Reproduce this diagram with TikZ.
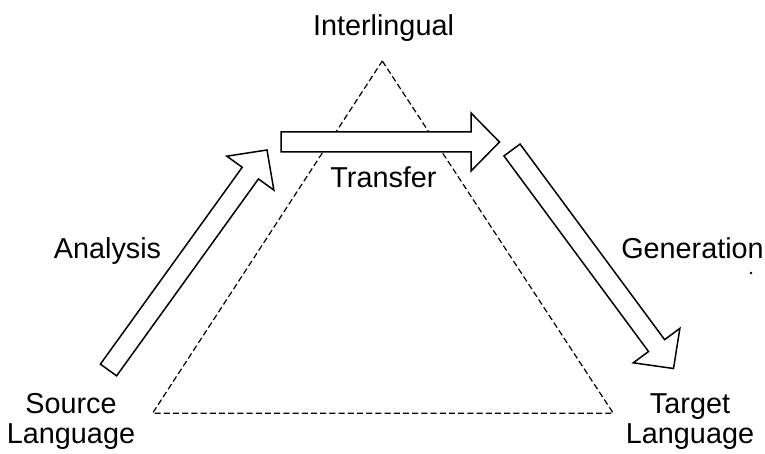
\documentclass[tikz,border=0pt]{standalone}
\usepackage{fontspec}
\setmainfont{Liberation Sans}
\usetikzlibrary{calc}
\tikzset{
  level label/.style={
    font=\fontsize{14.4}{15}\selectfont,inner sep=0pt,align=center
  },
  pyramid edge/.style={
    line width=0.6pt,dash pattern=on 3pt off 1.6pt
  },
  block arrow/.style={
    draw,fill=white,line width=0.75pt,line join=miter
  }
}
% hollow arrow from #1 (tail) to #2 (tip)
\newcommand\blockarrow[2]{%
  \coordinate (#1-hb) at ($(#2)!14.25pt!(#1)$);
  \draw[block arrow]
    ($(#1)!5pt!90:(#2)$) -- ($(#1-hb)!5pt!90:(#2)$)
    -- ($(#1-hb)!14.5pt!90:(#2)$) -- (#2)
    -- ($(#1-hb)!14.5pt!-90:(#2)$) -- ($(#1-hb)!5pt!-90:(#2)$)
    -- ($(#1)!5pt!-90:(#2)$) -- cycle;
}

\begin{document}
\begin{tikzpicture}[x=0.5pt,y=-0.5pt]
  \useasboundingbox (0,0) rectangle (765,454);

  % the pyramid
  \coordinate (apex) at (382.3,61);
  \coordinate (src)  at (152.5,413.3);
  \coordinate (tgt)  at (613.3,413.3);
  \draw[pyramid edge] (apex) -- (tgt) -- (src) -- cycle;

  % arrow ends
  \coordinate (ana) at (108.5,370);  \coordinate (ana-end) at (267,150);
  \coordinate (tra) at (281,142);    \coordinate (tra-end) at (499.5,142);
  \coordinate (gen) at (512,150);    \coordinate (gen-end) at (673.5,368.5);

  \foreach \t in {ana,tra,gen} {
    \blockarrow{\t}{\t-end}
  }

  % labels
  \node[level label,anchor=base] (interlingual) at (383.5,36) {Interlingual};
  \node[level label,anchor=base] (transfer) at (383.5,188) {Transfer};
  \node[level label,anchor=base] (analysis) at (107.5,258) {Analysis};
  \node[level label,anchor=base] (generation) at (692.5,258) {Generation};
  \node[level label,anchor=base] (source) at (71,443) {Source\\Language};
  \node[level label,anchor=base] (target) at (690,443) {Target\\Language};

  \fill (751,273) circle (0.7pt);
\end{tikzpicture}
\end{document}
